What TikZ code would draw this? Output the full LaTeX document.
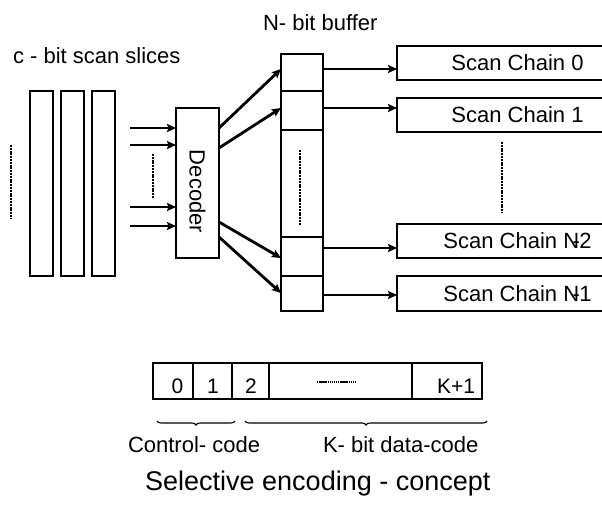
\documentclass[tikz,border=0pt]{standalone}
\usepackage{fontspec}
\setmainfont{Liberation Sans}
\usepackage{graphicx}
\usetikzlibrary{arrows.meta,calc,decorations.pathreplacing}
\begin{document}
\begin{tikzpicture}[x=1pt,y=-1pt,
  box/.style={draw, line width=2.2pt, inner sep=0pt, outer sep=0pt},
  lbl/.style={inner sep=0pt, outer sep=0pt, font=\fontsize{22}{26}\selectfont},
  num/.style={inner sep=0pt, outer sep=0pt, anchor=base, font=\fontsize{21}{25}\selectfont},
  arr/.style={line width=2.8pt, -{Stealth[length=9pt,width=8pt,inset=1.5pt]}},
  harr/.style={line width=2.6pt, -{Stealth[length=9pt,width=8pt,inset=1.5pt]}},
  vdots/.style={line width=2.6pt, dash pattern=on 2pt off 0.8pt},
  brc/.style={line width=1.1pt, decorate, decoration={brace, mirror, amplitude=4pt}}]
\clip (0,0) rectangle (602,504);
\fill[white] (0,0) rectangle (602,504);

% labels
\node[lbl, anchor=base west] (lslices) at (13,63) {c - bit scan slices};
\node[lbl, anchor=base west] (lbuffer) at (263,30) {N- bit buffer};

% slices
\node[box, minimum width=23, minimum height=185] (s1) at (41.5,183.5) {};
\node[box, minimum width=23, minimum height=185] (s2) at (72.5,183.5) {};
\node[box, minimum width=23, minimum height=185] (s3) at (103.5,183.5) {};
\coordinate (ld1) at (11,145);
\coordinate (ld2) at (11,218);
\draw[vdots] (ld1) -- (ld2);

% decoder
\node[box, minimum width=43, minimum height=150] (dec) at (197.5,183) {};
\node[lbl, rotate=-90] (dectxt) at ($(dec.center)+(0,8.5)$) {Decoder};

% inputs
\coordinate (i1) at (130,128);
\coordinate (i2) at (130,145);
\coordinate (i3) at (130,207);
\coordinate (i4) at (130,226);
\draw[arr] (i1) -- (i1 -| dec.west);
\draw[arr] (i2) -- (i2 -| dec.west);
\draw[arr] (i3) -- (i3 -| dec.west);
\draw[arr] (i4) -- (i4 -| dec.west);
\coordinate (id1) at (153,154);
\coordinate (id2) at (153,198);
\draw[vdots] (id1) -- (id2);

% buffer
\node[box, minimum width=42, minimum height=37] (b0) at (302,72.5) {};
\node[box, minimum width=42, minimum height=39] (b1) at (302,110.5) {};
\node[box, minimum width=42, minimum height=107] (bm) at (302,183.5) {};
\node[box, minimum width=42, minimum height=39] (b2) at (302,256.5) {};
\node[box, minimum width=42, minimum height=35] (b3) at (302,293.5) {};
\coordinate (bd1) at (300,150);
\coordinate (bd2) at (300,225);
\draw[vdots] (bd1) -- (bd2);

% decoder to buffer
\draw[arr] ($(dec.east)+(0,-55)$) -- ($(b0.west)+(0,-3.5)$);
\draw[arr] ($(dec.east)+(0,-35)$) -- ($(b1.west)+(0,-2.5)$);
\draw[arr] ($(dec.east)+(0,39)$) -- ($(b2.west)+(0,1.5)$);
\draw[arr] ($(dec.east)+(0,54)$) -- ($(b3.west)+(0,-0.5)$);

% scan chains
\node[box, lbl, draw, line width=2.2pt, minimum width=241, minimum height=34] (c0) at (517.5,63) {Scan Chain 0};
\node[box, lbl, draw, line width=2.2pt, minimum width=241, minimum height=34] (c1) at (517.5,115) {Scan Chain 1};
\node[box, lbl, draw, line width=2.2pt, minimum width=241, minimum height=34] (cn2) at (517.5,241) {Scan Chain N\kern-0.3em-\kern-0.03em2};
\node[box, lbl, draw, line width=2.2pt, minimum width=241, minimum height=35] (cn1) at (517.5,293.5) {Scan Chain N\kern-0.3em-\kern-0.03em1};
\coordinate (cd1) at (502,142);
\coordinate (cd2) at (502,213);
\draw[vdots] (cd1) -- (cd2);

% buffer to chains
\coordinate (a0) at ($(b0.east)+(0,-3.5)$);
\coordinate (a1) at ($(b1.east)+(0,-2.5)$);
\coordinate (a2) at ($(b2.east)+(0,-8.5)$);
\coordinate (a3) at ($(b3.east)+(0,1.5)$);
\draw[harr] (a0) -- (a0 -| c0.west);
\draw[harr] (a1) -- (a1 -| c1.west);
\draw[harr] (a2) -- (a2 -| cn2.west);
\draw[harr] (a3) -- (a3 -| cn1.west);

% code row
\node[box, minimum width=40, minimum height=36] (k0) at (173,381) {};
\node[box, minimum width=39, minimum height=36] (k1) at (212.5,381) {};
\node[box, minimum width=37, minimum height=36] (k2) at (250.5,381) {};
\node[box, minimum width=143, minimum height=36] (kd) at (340.5,381) {};
\node[box, minimum width=70, minimum height=36] (kk) at (447,381) {};
\node[num] (t0) at (177.5,393) {0};
\node[num] (t1) at (213,393) {1};
\node[num] (t2) at (251,393) {2};
\node[num] (tk) at (456,393) {K+1};
\coordinate (hd1) at (317,382);
\coordinate (hd2) at (355,382);
\draw[line width=1.8pt, dash pattern=on 1.4pt off 0.7pt] (hd1) -- (hd2);

% braces
\coordinate (br1) at (157,421);
\coordinate (br2) at (235,421);
\coordinate (br3) at (245,421);
\coordinate (br4) at (487,421);
\draw[brc] (br1) -- (br2);
\draw[brc] (br3) -- (br4);

\node[lbl, anchor=base west] (lctrl) at (128,452) {Control- code};
\node[lbl, anchor=base west] (ldata) at (323,452) {K- bit data-code};
\node[inner sep=0pt, anchor=base west, font=\fontsize{27}{32}\selectfont] (title) at (145,490) {Selective encoding - concept};
\end{tikzpicture}
\end{document}
